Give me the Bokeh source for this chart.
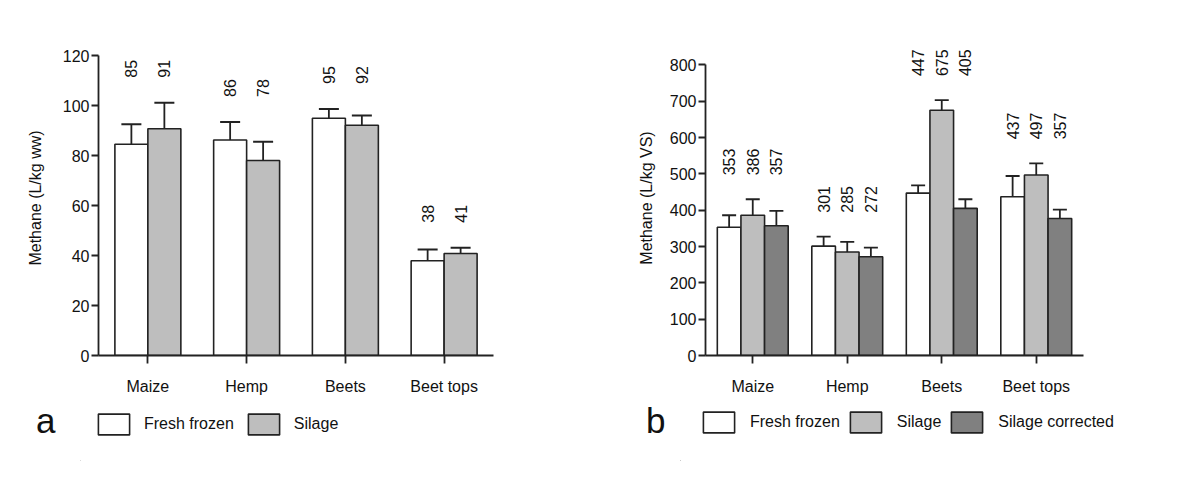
import math
from bokeh.plotting import figure
from bokeh.models import (ColumnDataSource, FactorRange, Range1d, FixedTicker, Whisker, TeeHead,
                          Legend, LegendItem)
from bokeh.transform import dodge
from bokeh.layouts import row, column
from bokeh.core.properties import value
from bokeh.embed import file_html
from bokeh.resources import INLINE

# ---------------- data ----------------
categories = ["Maize", "Hemp", "Beets", "Beet tops"]

# panel a: L/kg ww
a_fresh = [84.5, 86.2, 94.9, 37.9]
a_fresh_err = [8.0, 7.2, 3.7, 4.5]
a_fresh_lbl = ["85", "86", "95", "38"]
a_silage = [90.7, 78.0, 92.1, 40.8]
a_silage_err = [10.4, 7.5, 3.9, 2.3]
a_silage_lbl = ["91", "78", "92", "41"]

# panel b: L/kg VS
b_fresh = [353, 301, 447, 437]
b_fresh_err = [33, 26, 21, 57]
b_fresh_lbl = ["353", "301", "447", "437"]
b_silage = [386, 285, 675, 497]
b_silage_err = [44, 27.5, 28, 32]
b_silage_lbl = ["386", "285", "675", "497"]
b_corr = [357, 272, 405, 377]
b_corr_err = [41, 25, 25, 24.5]
b_corr_lbl = ["357", "272", "405", "357"]

a_yticks = [0, 20, 40, 60, 80, 100, 120]
b_yticks = [0, 100, 200, 300, 400, 500, 600, 700, 800]

FONT = "Liberation Sans"
EDGE = "#222222"
TXT = "#111111"


def main_panel(series, ymax, yextent, yticks, ylabel, bar_w, cap, lbl_off,
               width, left, right, label_standoff):
    top, frame_h, H = 40, 315, 400
    p = figure(width=width, height=H, x_range=FactorRange(factors=categories, range_padding=0),
               y_range=Range1d(0, yextent), output_backend="svg", toolbar_location=None,
               min_border_left=left, min_border_right=right, min_border_top=top,
               min_border_bottom=H - top - frame_h)
    p.frame_align = False
    p.xgrid.visible = False
    p.ygrid.visible = False
    p.outline_line_color = None
    p.border_fill_color = "white"

    n = len(series)
    offsets = [(i - (n - 1) / 2) * bar_w for i in range(n)]
    tops = [max(s[0][k] + s[1][k] for s in series) for k in range(len(categories))]
    for (vals, errs, lbls, color, name), off in zip(series, offsets):
        src = ColumnDataSource(dict(cat=categories, val=vals,
                                    upper=[v + e for v, e in zip(vals, errs)],
                                    lower=[v - e for v, e in zip(vals, errs)],
                                    ly=[t + lbl_off for t in tops], txt=lbls))
        p.vbar(x=dodge("cat", off, range=p.x_range), top="val", width=bar_w, source=src,
               fill_color=color, line_color=EDGE, line_width=1.6)
        w = Whisker(base=dodge("cat", off, range=p.x_range), upper="upper", lower="lower",
                    source=src, line_color=EDGE, line_width=1.8,
                    upper_head=TeeHead(size=cap, line_color=EDGE, line_width=1.8),
                    lower_head=TeeHead(size=cap, line_color=EDGE, line_width=1.8))
        p.add_layout(w)
        p.text(x=dodge("cat", off, range=p.x_range), y="ly", text="txt", source=src,
               angle=math.pi / 2, text_align="left", text_baseline="middle",
               text_font=value(FONT), text_font_size="16px", text_color=TXT)

    for ax in (p.xaxis[0], p.yaxis[0]):
        ax.axis_line_color = EDGE
        ax.axis_line_width = 1.8
        ax.major_tick_line_color = EDGE
        ax.major_tick_line_width = 1.8
        ax.major_tick_in = 0
        ax.minor_tick_line_color = None
        ax.major_label_text_font = FONT
        ax.major_label_text_font_size = "16px"
        ax.major_label_text_color = TXT
    p.xaxis.major_tick_out = 8
    p.xaxis.major_label_standoff = 14
    p.yaxis.major_tick_out = 7
    p.yaxis.major_label_standoff = 2
    p.yaxis.bounds = (0, ymax)
    p.yaxis.ticker = FixedTicker(ticks=yticks)
    p.yaxis.axis_label = ylabel
    p.yaxis.axis_label_text_font = FONT
    p.yaxis.axis_label_text_font_size = "16px"
    p.yaxis.axis_label_text_font_style = "normal"
    p.yaxis.axis_label_text_color = TXT
    p.yaxis.axis_label_standoff = label_standoff
    return p


def legend_panel(entries, letter, width, left, letter_standoff, loc, standoff, spacing):
    H = 61
    p = figure(width=width, height=H, x_range=Range1d(0, 1), y_range=Range1d(0, H),
               x_axis_type=None, output_backend="svg", toolbar_location=None,
               min_border_left=left, min_border_right=0, min_border_top=0,
               min_border_bottom=0)
    p.frame_align = False
    p.grid.visible = False
    p.outline_line_color = None
    p.background_fill_color = "white"
    p.border_fill_color = "white"
    items = []
    for name, color in entries:
        # swatch renderer: its single bar lies far outside the visible ranges
        r = p.vbar(x=[-50], bottom=[-200], top=[-100], width=0.1, fill_color=color,
                   line_color=EDGE, line_width=1.6)
        items.append(LegendItem(label=name, renderers=[r]))
    leg = Legend(items=items, orientation="horizontal", location=loc,
                 glyph_width=39, glyph_height=26, label_standoff=standoff,
                 spacing=spacing, padding=0, margin=0,
                 border_line_color=None, background_fill_alpha=0,
                 label_text_font=FONT, label_text_font_size="16px",
                 label_text_color=TXT)
    p.add_layout(leg)
    # panel letter as the single tick label of an otherwise hidden axis
    ax = p.yaxis[0]
    ax.ticker = FixedTicker(ticks=[41], minor_ticks=[])
    ax.major_label_overrides = {41: letter}
    ax.axis_line_color = None
    ax.axis_line_alpha = 0
    ax.major_tick_line_color = None
    ax.major_tick_line_alpha = 0
    ax.minor_tick_line_color = None
    ax.major_tick_out = 0
    ax.minor_tick_out = 0
    ax.major_label_standoff = letter_standoff
    ax.major_label_text_font = FONT
    ax.major_label_text_font_size = "35px"
    ax.major_label_text_color = TXT
    return p


pa = main_panel(
    [(a_fresh, a_fresh_err, a_fresh_lbl, "white", "Fresh frozen"),
     (a_silage, a_silage_err, a_silage_lbl, "#bebebe", "Silage")],
    120, 126, a_yticks, "Methane (L/kg ww)", 0.334, 20, 10,
    600, 98, 107, 16)

pb = main_panel(
    [(b_fresh, b_fresh_err, b_fresh_lbl, "white", "Fresh frozen"),
     (b_silage, b_silage_err, b_silage_lbl, "#bebebe", "Silage"),
     (b_corr, b_corr_err, b_corr_lbl, "#808080", "Silage corrected")],
    800, 867, b_yticks, "Methane (L/kg VS)", 0.25, 14, 66,
    592, 105, 109, 12)

la = legend_panel([("Fresh frozen", "white"), ("Silage", "#bebebe")], "a",
                  600, 80, 25, (14, 24), 11, 10)
lb = legend_panel([("Fresh frozen", "white"), ("Silage", "#bebebe"),
                   ("Silage corrected", "#808080")], "b",
                  592, 80, 15, (19, 26), 12, 6)

layout = row(column(pa, la), column(pb, lb))
open("out.html", "w").write(file_html(layout, INLINE))
